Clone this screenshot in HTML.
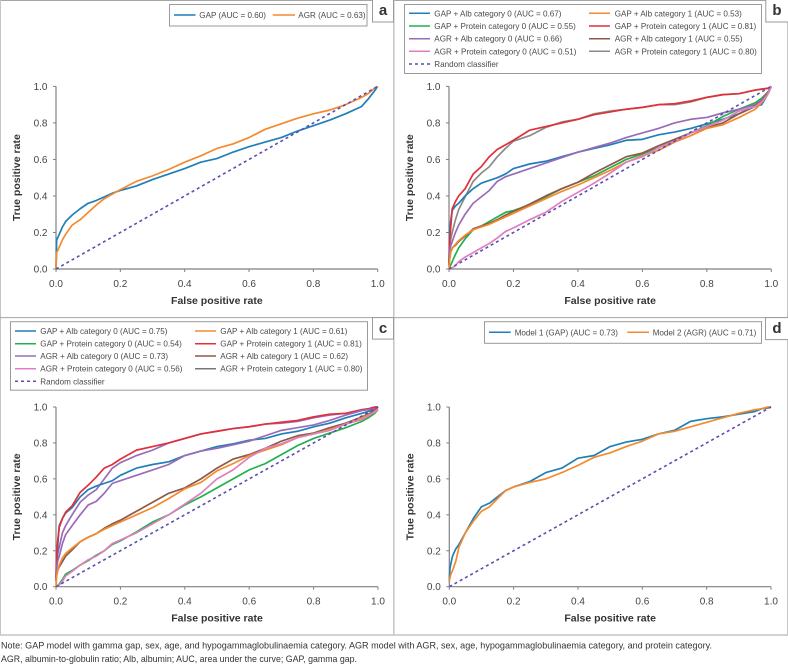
<!DOCTYPE html>
<html lang="en">
<head>
<meta charset="utf-8">
<title>ROC curves for GAP and AGR models</title>
<style>
html,body{margin:0;padding:0;background:#fff;width:788px;height:665px;overflow:hidden}
svg{display:block;font-family:"Liberation Sans",sans-serif}
.leg{font-size:8.1px;fill:#4a4a4a}
.tick{font-size:10px;fill:#444}
.title{font-size:10.5px;font-weight:bold;fill:#333}
.letter{font-size:15px;font-weight:bold;fill:#333;text-anchor:middle}
.note{font-size:9.3px;fill:#333}
.box{fill:#fff;stroke:#9a9a9a;stroke-width:1}
</style>
</head>
<body>
<svg id="figure" width="788" height="665" viewBox="0 0 788 665" xmlns="http://www.w3.org/2000/svg">
  <g>
    <rect x="0" y="0" width="788" height="665" fill="#fff"/>
    <line x1="0" y1="0.5" x2="788" y2="0.5" stroke="#a5a5a5" stroke-width="1"/>
    <line x1="0.5" y1="0" x2="0.5" y2="635" stroke="#c4c4c4" stroke-width="1"/>
    <line x1="787.5" y1="0" x2="787.5" y2="635" stroke="#c4c4c4" stroke-width="1"/>
    <line x1="393.8" y1="0" x2="393.8" y2="635" stroke="#c8c8c8" stroke-width="1.6"/>
    <line x1="0" y1="317.6" x2="788" y2="317.6" stroke="#a5a5a5" stroke-width="1"/>
    <line x1="0" y1="635" x2="788" y2="635" stroke="#c4c4c4" stroke-width="1.6"/>
  </g>

  <g>
    <rect class="box" x="372.5" y="-2" width="21" height="24"/>
    <text class="letter" x="383" y="15">a</text>
    <rect class="box" x="765.8" y="-2" width="24" height="24"/>
    <text class="letter" x="777" y="15">b</text>
    <rect class="box" x="372.5" y="317.6" width="21" height="21.5"/>
    <text class="letter" x="383" y="333">c</text>
    <rect class="box" x="765.5" y="317.6" width="24" height="22"/>
    <text class="letter" x="777" y="333">d</text>
  </g>

  <g>
    <rect class="box" x="169.5" y="4.5" width="197.5" height="21.5"/>
    <line x1="174" y1="15" x2="195.5" y2="15" stroke="#1f7fb8" stroke-width="1.5"/>
    <text class="leg" x="199.3" y="18">GAP (AUC = 0.60)</text>
    <line x1="272.7" y1="15" x2="295" y2="15" stroke="#f58a2c" stroke-width="1.5"/>
    <text class="leg" x="298.3" y="18">AGR (AUC = 0.63)</text>
  </g>

  <g>
    <rect class="box" x="404.5" y="4.5" width="357" height="69"/>
    <line x1="409" y1="13.3" x2="430" y2="13.3" stroke="#1f7fb8" stroke-width="1.5"/>
    <text class="leg" x="434.3" y="16.3">GAP + Alb category 0 (AUC = 0.67)</text>
    <line x1="589" y1="13.3" x2="610" y2="13.3" stroke="#f58a2c" stroke-width="1.5"/>
    <text class="leg" x="614.7" y="16.3">GAP + Alb category 1 (AUC = 0.53)</text>
    <line x1="409" y1="26" x2="430" y2="26" stroke="#22b04f" stroke-width="1.5"/>
    <text class="leg" x="434.3" y="29">GAP + Protein category 0 (AUC = 0.55)</text>
    <line x1="589" y1="26" x2="610" y2="26" stroke="#e0303a" stroke-width="1.5"/>
    <text class="leg" x="614.7" y="29">GAP + Protein category 1 (AUC = 0.81)</text>
    <line x1="409" y1="38.7" x2="430" y2="38.7" stroke="#9a6bb8" stroke-width="1.5"/>
    <text class="leg" x="434.3" y="41.7">AGR + Alb category 0 (AUC = 0.66)</text>
    <line x1="589" y1="38.7" x2="610" y2="38.7" stroke="#8c5a4a" stroke-width="1.5"/>
    <text class="leg" x="614.7" y="41.7">AGR + Alb category 1 (AUC = 0.55)</text>
    <line x1="409" y1="51.3" x2="430" y2="51.3" stroke="#e07fc0" stroke-width="1.5"/>
    <text class="leg" x="434.3" y="54.3">AGR + Protein category 0 (AUC = 0.51)</text>
    <line x1="589" y1="51.3" x2="610" y2="51.3" stroke="#8a8a8a" stroke-width="1.5"/>
    <text class="leg" x="614.7" y="54.3">AGR + Protein category 1 (AUC = 0.80)</text>
    <line x1="409" y1="64" x2="430" y2="64" stroke="#5a4fb0" stroke-width="1.5" stroke-dasharray="3 3"/>
    <text class="leg" x="434.3" y="67">Random classifier</text>
  </g>

  <g>
    <rect class="box" x="10.5" y="321.7" width="357" height="68.5"/>
    <line x1="15" y1="331" x2="36" y2="331" stroke="#1f7fb8" stroke-width="1.5"/>
    <text class="leg" x="40.3" y="334">GAP + Alb category 0 (AUC = 0.75)</text>
    <line x1="195" y1="331" x2="216" y2="331" stroke="#f58a2c" stroke-width="1.5"/>
    <text class="leg" x="220.3" y="334">GAP + Alb category 1 (AUC = 0.61)</text>
    <line x1="15" y1="343.7" x2="36" y2="343.7" stroke="#22b04f" stroke-width="1.5"/>
    <text class="leg" x="40.3" y="346.7">GAP + Protein category 0 (AUC = 0.54)</text>
    <line x1="195" y1="343.7" x2="216" y2="343.7" stroke="#e0303a" stroke-width="1.5"/>
    <text class="leg" x="220.3" y="346.7">GAP + Protein category 1 (AUC = 0.81)</text>
    <line x1="15" y1="356" x2="36" y2="356" stroke="#9a6bb8" stroke-width="1.5"/>
    <text class="leg" x="40.3" y="359">AGR + Alb category 0 (AUC = 0.73)</text>
    <line x1="195" y1="356" x2="216" y2="356" stroke="#8c5a4a" stroke-width="1.5"/>
    <text class="leg" x="220.3" y="359">AGR + Alb category 1 (AUC = 0.62)</text>
    <line x1="15" y1="368.7" x2="36" y2="368.7" stroke="#e07fc0" stroke-width="1.5"/>
    <text class="leg" x="40.3" y="371.7">AGR + Protein category 0 (AUC = 0.56)</text>
    <line x1="195" y1="368.7" x2="216" y2="368.7" stroke="#777" stroke-width="1.5"/>
    <text class="leg" x="220.3" y="371.7">AGR + Protein category 1 (AUC = 0.80)</text>
    <line x1="15" y1="381.3" x2="36" y2="381.3" stroke="#5a4fb0" stroke-width="1.5" stroke-dasharray="3 3"/>
    <text class="leg" x="40.3" y="384.3">Random classifier</text>
  </g>

  <g>
    <rect class="box" x="484.5" y="321.7" width="277" height="21.6"/>
    <line x1="489" y1="332.3" x2="510.7" y2="332.3" stroke="#1f7fb8" stroke-width="1.5"/>
    <text class="leg" x="514.7" y="335.3">Model 1 (GAP) (AUC = 0.73)</text>
    <line x1="627.3" y1="332.3" x2="649" y2="332.3" stroke="#f58a2c" stroke-width="1.5"/>
    <text class="leg" x="652.7" y="335.3">Model 2 (AGR) (AUC = 0.71)</text>
  </g>

  <g id="plots"></g>

  <text class="note" x="1" y="648.5" textLength="711" lengthAdjust="spacingAndGlyphs">Note: GAP model with gamma gap, sex, age, and hypogammaglobulinaemia category. AGR model with AGR, sex, age, hypogammaglobulinaemia category, and protein category.</text>
  <text class="note" x="1" y="662" textLength="356" lengthAdjust="spacingAndGlyphs">AGR, albumin-to-globulin ratio; Alb, albumin; AUC, area under the curve; GAP, gamma gap.</text>
</svg>

<script>
const tickLabels = ['0.0', '0.2', '0.4', '0.6', '0.8', '1.0'];
const tickValues = [0, 0.2, 0.4, 0.6, 0.8, 1];
const fpr = [0,.002,.005,.01,.02,.03,.05,.075,.1,.125,.15,.175,.2,.25,.3,.35,.4,.45,.5,.55,.6,.65,.7,.75,.8,.85,.9,.95,.97,.99,1];
const randomX = [0, 1];
const randomY = [0, 1];

const aGap = [0,.16,.17,.19,.23,.26,.295,.33,.36,.375,.395,.415,.43,.455,.49,.52,.55,.585,.605,.64,.67,.695,.72,.755,.785,.815,.85,.89,.93,.975,1];
const aAgr = [0,.09,.10,.12,.16,.19,.24,.27,.31,.35,.385,.41,.435,.48,.51,.545,.585,.62,.66,.685,.72,.765,.795,.825,.85,.87,.90,.94,.96,.99,1];

const bGapAlb0 = [.03,.2,.26,.32,.345,.36,.40,.44,.47,.485,.50,.52,.55,.575,.59,.615,.64,.66,.68,.705,.71,.735,.75,.77,.795,.82,.85,.89,.90,.96,1];
const bGapAlb1 = [0,.05,.09,.115,.135,.155,.185,.215,.23,.245,.265,.285,.305,.345,.385,.425,.46,.50,.54,.585,.62,.65,.695,.73,.77,.79,.83,.875,.91,.96,1];
const bGapProt0 = [0,.01,.02,.04,.08,.115,.165,.215,.235,.26,.285,.31,.32,.35,.395,.44,.475,.51,.555,.60,.63,.665,.70,.745,.785,.835,.875,.91,.935,.97,1];
const bGapProt1 = [.03,.15,.22,.33,.37,.40,.44,.52,.56,.615,.655,.68,.705,.76,.78,.80,.82,.845,.86,.875,.885,.90,.905,.92,.94,.955,.96,.98,.985,.99,1];
const bAgrAlb0 = [.02,.1,.125,.15,.2,.24,.30,.36,.395,.43,.48,.505,.52,.55,.58,.61,.64,.665,.69,.72,.745,.77,.80,.82,.83,.855,.875,.90,.925,.96,1];
const bAgrAlb1 = [.02,.06,.09,.115,.13,.15,.18,.22,.235,.25,.27,.295,.315,.355,.40,.44,.475,.525,.57,.615,.635,.675,.71,.745,.775,.80,.85,.895,.92,.97,1];
const bAgrProt0 = [0,0,0,.005,.02,.04,.065,.09,.115,.14,.17,.205,.225,.27,.31,.37,.42,.47,.525,.585,.615,.665,.70,.745,.78,.815,.865,.89,.915,.96,1];
const bAgrProt1 = [.03,.12,.16,.2,.27,.325,.395,.48,.525,.56,.615,.66,.70,.73,.775,.805,.82,.85,.865,.875,.885,.90,.90,.915,.94,.955,.96,.98,.985,.99,1];

const cGapAlb0 = [.05,.14,.22,.34,.38,.41,.44,.50,.54,.56,.575,.59,.62,.66,.68,.695,.73,.755,.78,.795,.815,.825,.85,.865,.89,.91,.94,.965,.975,.985,1];
const cGapAlb1 = [0,.06,.09,.12,.16,.185,.215,.25,.275,.295,.32,.34,.36,.40,.44,.49,.545,.58,.645,.685,.73,.76,.79,.83,.85,.875,.905,.94,.955,.97,.985];
const cGapProt0 = [0,0,.005,.015,.04,.07,.09,.12,.145,.175,.20,.235,.255,.305,.36,.40,.455,.50,.55,.60,.65,.685,.735,.785,.825,.855,.885,.92,.94,.965,.985];
const cGapProt1 = [.05,.18,.25,.33,.38,.415,.45,.525,.565,.61,.66,.68,.71,.76,.78,.80,.825,.85,.865,.88,.89,.905,.915,.925,.945,.96,.965,.985,.99,1,1];
const cAgrAlb0 = [.03,.1,.14,.17,.24,.29,.34,.40,.455,.475,.52,.575,.59,.62,.65,.68,.73,.755,.77,.79,.81,.84,.87,.885,.90,.925,.955,.98,.985,.99,1];
const cAgrAlb1 = [.03,.06,.09,.11,.14,.17,.205,.25,.275,.295,.325,.35,.37,.42,.47,.52,.55,.60,.66,.71,.735,.77,.81,.84,.855,.885,.91,.945,.96,.98,1];
const cAgrProt0 = [0,0,.005,.01,.03,.06,.085,.12,.15,.17,.20,.24,.26,.30,.35,.40,.46,.52,.60,.65,.72,.77,.795,.83,.85,.87,.905,.93,.95,.975,.99];
const cAgrProt1 = [.04,.12,.18,.22,.30,.34,.40,.47,.51,.54,.60,.66,.69,.73,.76,.80,.825,.85,.865,.88,.89,.905,.91,.92,.94,.955,.965,.985,.99,.995,1];

const dModel1 = [.03,.1,.13,.17,.21,.235,.30,.38,.445,.465,.50,.535,.555,.585,.635,.66,.715,.73,.78,.805,.82,.85,.87,.92,.935,.945,.96,.975,.99,.995,1];
const dModel2 = [.03,.05,.07,.09,.14,.22,.30,.365,.42,.445,.49,.535,.555,.58,.60,.635,.675,.72,.745,.78,.81,.85,.865,.89,.915,.94,.965,.985,.99,1,1];

const BLUE = '#1f7fb8', ORANGE = '#f58a2c', GREEN = '#22b04f', RED = '#e0303a';
const PURPLE = '#9a6bb8', BROWN = '#8c5a4a', PINK = '#e07fc0', GRAY = '#8a8a8a';

const panels = [
  { id: 'a', x0: 56, x1: 377.7, y0: 269, y1: 86.4, series: [
    ['gap', aGap, BLUE], ['agr', aAgr, ORANGE] ] },
  { id: 'b', x0: 449, x1: 771.3, y0: 269, y1: 86.4, series: [
    ['agr-protein-1', bAgrProt1, GRAY], ['gap-alb-0', bGapAlb0, BLUE], ['gap-protein-0', bGapProt0, GREEN],
    ['gap-protein-1', bGapProt1, RED], ['agr-alb-0', bAgrAlb0, PURPLE], ['agr-alb-1', bAgrAlb1, BROWN],
    ['gap-alb-1', bGapAlb1, ORANGE], ['agr-protein-0', bAgrProt0, PINK] ] },
  { id: 'c', x0: 56, x1: 378, y0: 586.7, y1: 407, series: [
    ['agr-protein-1', cAgrProt1, PURPLE], ['gap-alb-0', cGapAlb0, BLUE], ['gap-protein-0', cGapProt0, GREEN],
    ['gap-protein-1', cGapProt1, RED], ['agr-alb-0', cAgrAlb0, PURPLE], ['agr-alb-1', cAgrAlb1, BROWN],
    ['gap-alb-1', cGapAlb1, ORANGE], ['agr-protein-0', cAgrProt0, PINK] ] },
  { id: 'd', x0: 449.3, x1: 771, y0: 586.7, y1: 407, series: [
    ['model-1', dModel1, BLUE], ['model-2', dModel2, ORANGE] ] }
];

const NS = 'http://www.w3.org/2000/svg';
const root = document.getElementById('plots');

function make(tag, parent, attrs) {
  const el = document.createElementNS(NS, tag);
  for (const k in attrs) el.setAttribute(k, attrs[k]);
  parent.appendChild(el);
  return el;
}

function linePath(xs, ys, sx, sy) {
  return xs.map((v, i) => (i ? 'L' : 'M') + sx(v).toFixed(2) + ' ' + sy(ys[i]).toFixed(2)).join('');
}

panels.forEach(p => {
  const sx = v => p.x0 + v * (p.x1 - p.x0);
  const sy = v => p.y0 + v * (p.y1 - p.y0);
  const g = make('g', root, {});
  
  

  const xAxis = make('line', g, { x1: p.x0, y1: p.y0, x2: p.x1, y2: p.y0, stroke: '#808080', 'stroke-width': 1.2 });
  
  
  const yAxis = make('line', g, { x1: p.x0, y1: p.y0, x2: p.x0, y2: p.y1, stroke: '#808080', 'stroke-width': 1.2 });
  
  

  tickValues.forEach((v, i) => {
    const xt = make('line', g, { x1: sx(v), y1: p.y0, x2: sx(v), y2: p.y0 + 3, stroke: '#808080', 'stroke-width': 1 });
    
    
    const yt = make('line', g, { x1: p.x0 - 3, y1: sy(v), x2: p.x0, y2: sy(v), stroke: '#808080', 'stroke-width': 1 });
    
    
    const xl = make('text', g, { x: sx(v), y: p.y0 + 18, 'text-anchor': 'middle', class: 'tick' });
    xl.textContent = tickLabels[i];
    
    
    const yl = make('text', g, { x: p.x0 - 8.5, y: sy(v) + 3.5, 'text-anchor': 'end', class: 'tick' });
    yl.textContent = tickLabels[i];
    
    
  });

  const xTitle = make('text', g, { x: (p.x0 + p.x1) / 2, y: p.y0 + 35, 'text-anchor': 'middle', class: 'title' });
  xTitle.textContent = 'False positive rate';
  
  
  const yCenter = (p.y0 + p.y1) / 2;
  const yTitleX = p.x0 - 36;
  const yTitle = make('text', g, { x: yTitleX, y: yCenter, 'text-anchor': 'middle', class: 'title', transform: 'rotate(-90 ' + yTitleX + ' ' + yCenter + ')' });
  yTitle.textContent = 'True positive rate';
  
  

  p.series.forEach(s => {
    const path = make('path', g, { d: linePath(fpr, s[1], sx, sy), fill: 'none', stroke: s[2], 'stroke-width': 1.7, 'stroke-linejoin': 'round' });
    
    
  });

  const diag = make('path', g, { d: linePath(randomX, randomY, sx, sy), fill: 'none', stroke: '#5a4fb0', 'stroke-width': 1.6, 'stroke-dasharray': '3 3' });
  
  
});
</script>
</body>
</html>
